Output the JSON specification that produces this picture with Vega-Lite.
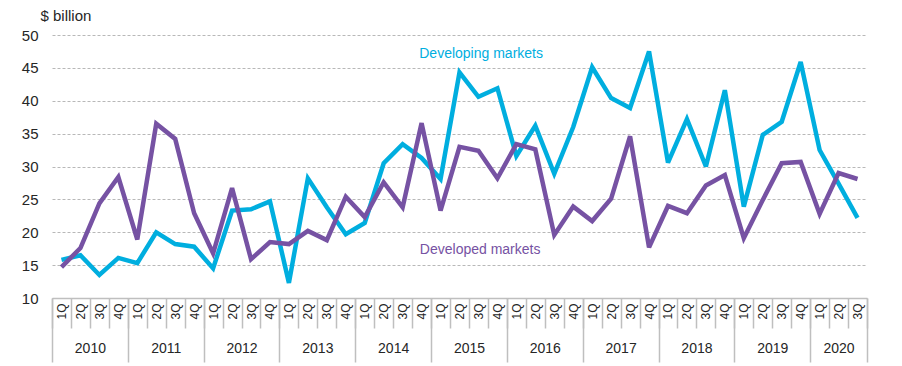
{
  "$schema": "https://vega.github.io/schema/vega-lite/v6.json",
  "width": 815,
  "height": 263,
  "autosize": {"type": "none"},
  "padding": {"left": 52, "top": 35, "right": 35, "bottom": 68},
  "config": {
    "view": {"stroke": null},
    "font": "Liberation Sans",
    "axis": {"grid": false, "labelFont": "Liberation Sans", "titleFont": "Liberation Sans"}
  },
  "datasets": {
    "flows": [
      {"i": 0, "year": 2010, "quarter": "1Q", "developing": 15.8, "developed": 14.7},
      {"i": 1, "year": 2010, "quarter": "2Q", "developing": 16.5, "developed": 17.6},
      {"i": 2, "year": 2010, "quarter": "3Q", "developing": 13.5, "developed": 24.4},
      {"i": 3, "year": 2010, "quarter": "4Q", "developing": 16.1, "developed": 28.4},
      {"i": 4, "year": 2011, "quarter": "1Q", "developing": 15.3, "developed": 18.9},
      {"i": 5, "year": 2011, "quarter": "2Q", "developing": 20.0, "developed": 36.5},
      {"i": 6, "year": 2011, "quarter": "3Q", "developing": 18.2, "developed": 34.2},
      {"i": 7, "year": 2011, "quarter": "4Q", "developing": 17.8, "developed": 22.9},
      {"i": 8, "year": 2012, "quarter": "1Q", "developing": 14.5, "developed": 16.8},
      {"i": 9, "year": 2012, "quarter": "2Q", "developing": 23.3, "developed": 26.7},
      {"i": 10, "year": 2012, "quarter": "3Q", "developing": 23.5, "developed": 15.9},
      {"i": 11, "year": 2012, "quarter": "4Q", "developing": 24.7, "developed": 18.5},
      {"i": 12, "year": 2013, "quarter": "1Q", "developing": 12.3, "developed": 18.2},
      {"i": 13, "year": 2013, "quarter": "2Q", "developing": 28.2, "developed": 20.2},
      {"i": 14, "year": 2013, "quarter": "3Q", "developing": 23.8, "developed": 18.8},
      {"i": 15, "year": 2013, "quarter": "4Q", "developing": 19.7, "developed": 25.4},
      {"i": 16, "year": 2014, "quarter": "1Q", "developing": 21.4, "developed": 22.3},
      {"i": 17, "year": 2014, "quarter": "2Q", "developing": 30.5, "developed": 27.6},
      {"i": 18, "year": 2014, "quarter": "3Q", "developing": 33.4, "developed": 23.8},
      {"i": 19, "year": 2014, "quarter": "4Q", "developing": 31.3, "developed": 36.6},
      {"i": 20, "year": 2015, "quarter": "1Q", "developing": 28.1, "developed": 23.3},
      {"i": 21, "year": 2015, "quarter": "2Q", "developing": 44.3, "developed": 33.0},
      {"i": 22, "year": 2015, "quarter": "3Q", "developing": 40.6, "developed": 32.4},
      {"i": 23, "year": 2015, "quarter": "4Q", "developing": 41.9, "developed": 28.2},
      {"i": 24, "year": 2016, "quarter": "1Q", "developing": 31.6, "developed": 33.4},
      {"i": 25, "year": 2016, "quarter": "2Q", "developing": 36.2, "developed": 32.6},
      {"i": 26, "year": 2016, "quarter": "3Q", "developing": 28.9, "developed": 19.6},
      {"i": 27, "year": 2016, "quarter": "4Q", "developing": 36.0, "developed": 23.9},
      {"i": 28, "year": 2017, "quarter": "1Q", "developing": 45.1, "developed": 21.7},
      {"i": 29, "year": 2017, "quarter": "2Q", "developing": 40.4, "developed": 25.1},
      {"i": 30, "year": 2017, "quarter": "3Q", "developing": 38.9, "developed": 34.6},
      {"i": 31, "year": 2017, "quarter": "4Q", "developing": 47.5, "developed": 17.7},
      {"i": 32, "year": 2018, "quarter": "1Q", "developing": 30.6, "developed": 24.0},
      {"i": 33, "year": 2018, "quarter": "2Q", "developing": 37.2, "developed": 22.9},
      {"i": 34, "year": 2018, "quarter": "3Q", "developing": 30.0, "developed": 27.1},
      {"i": 35, "year": 2018, "quarter": "4Q", "developing": 41.6, "developed": 28.7},
      {"i": 36, "year": 2019, "quarter": "1Q", "developing": 23.9, "developed": 19.1},
      {"i": 37, "year": 2019, "quarter": "2Q", "developing": 34.8, "developed": 24.9},
      {"i": 38, "year": 2019, "quarter": "3Q", "developing": 36.8, "developed": 30.5},
      {"i": 39, "year": 2019, "quarter": "4Q", "developing": 45.9, "developed": 30.7},
      {"i": 40, "year": 2020, "quarter": "1Q", "developing": 32.5, "developed": 22.8},
      {"i": 41, "year": 2020, "quarter": "2Q", "developing": 27.4, "developed": 29.0},
      {"i": 42, "year": 2020, "quarter": "3Q", "developing": 22.2, "developed": 28.1}
    ],
    "labels": [
      {"label": "Developing markets", "i": 22.14, "value": 47.1},
      {"label": "Developed markets", "i": 22.09, "value": 17.3}
    ]
  },
  "resolve": {"axis": {"x": "independent"}},
  "layer": [
    {
      "data": {"name": "flows"},
      "mark": {"type": "line", "color": "#00AEDF", "strokeWidth": 4.5, "strokeJoin": "miter", "strokeMiterLimit": 3},
      "encoding": {
        "x": {
          "field": "i", "type": "quantitative",
          "scale": {"domain": [-0.5, 42.5], "nice": false, "zero": false},
          "axis": {
            "orient": "bottom", "offset": 0,
            "title": null,
            "values": [0,1,2,3,4,5,6,7,8,9,10,11,12,13,14,15,16,17,18,19,20,21,22,23,24,25,26,27,28,29,30,31,32,33,34,35,36,37,38,39,40,41,42],
            "labelExpr": "(datum.value % 4 + 1) + 'Q'",
            "labelAngle": -90, "labelAlign": "right", "labelBaseline": "middle",
            "labelFontSize": 12, "labelColor": "#262626", "labelPadding": 5,
            "ticks": false, "domain": true, "domainColor": "#bfbfbf", "domainWidth": 1.5,
            "labelOverlap": false, "labelFlush": false
          }
        },
        "y": {
          "field": "developing", "type": "quantitative",
          "scale": {"domain": [10, 50], "nice": false, "zero": false},
          "axis": {
            "title": "$ billion", "titleAngle": 0, "titleAlign": "left", "titleBaseline": "middle",
            "titleX": -12, "titleY": -20, "titleFontSize": 15, "titleFontWeight": "normal", "titleColor": "#262626",
            "values": [10, 15, 20, 25, 30, 35, 40, 45, 50],
            "labelFontSize": 15, "labelColor": "#262626", "labelPadding": 14,
            "ticks": false, "domain": false,
            "grid": true, "gridDash": [3, 2], "gridColor": "#b8b8b8", "gridWidth": 1
          }
        }
      }
    },
    {
      "data": {"name": "flows"},
      "mark": {"type": "line", "color": "#7652A3", "strokeWidth": 4.5, "strokeJoin": "miter", "strokeMiterLimit": 3},
      "encoding": {
        "x": {
          "field": "i", "type": "quantitative",
          "axis": {
            "orient": "bottom", "offset": 0,
            "title": null,
            "values": [-0.5,0.5,1.5,2.5,3.5,4.5,5.5,6.5,7.5,8.5,9.5,10.5,11.5,12.5,13.5,14.5,15.5,16.5,17.5,18.5,19.5,20.5,21.5,22.5,23.5,24.5,25.5,26.5,27.5,28.5,29.5,30.5,31.5,32.5,33.5,34.5,35.5,36.5,37.5,38.5,39.5,40.5,41.5,42.5],
            "labels": false, "domain": false,
            "ticks": true, "tickSize": 30, "tickColor": "#bfbfbf", "tickWidth": 1.5
          }
        },
        "y": {
          "field": "developed", "type": "quantitative",
          "axis": {
            "title": "$ billion", "titleAngle": 0, "titleAlign": "left", "titleBaseline": "middle",
            "titleX": -12, "titleY": -20, "titleFontSize": 15, "titleFontWeight": "normal", "titleColor": "#262626",
            "values": [10, 15, 20, 25, 30, 35, 40, 45, 50],
            "labelFontSize": 15, "labelColor": "#262626", "labelPadding": 14,
            "ticks": false, "domain": false,
            "grid": true, "gridDash": [3, 2], "gridColor": "#b8b8b8", "gridWidth": 1
          }
        }
      }
    },
    {
      "data": {"name": "labels"},
      "transform": [{"filter": "datum.label == 'Developing markets'"}],
      "mark": {"type": "text", "color": "#00AEDF", "fontSize": 14, "align": "center", "baseline": "middle"},
      "encoding": {
        "text": {"field": "label"},
        "x": {
          "field": "i", "type": "quantitative",
          "axis": {
            "orient": "bottom", "offset": 0,
            "title": null,
            "values": [-0.5, 3.5, 7.5, 11.5, 15.5, 19.5, 23.5, 27.5, 31.5, 35.5, 39.5, 42.5],
            "labels": false, "domain": false,
            "ticks": true, "tickSize": 64, "tickColor": "#bfbfbf", "tickWidth": 1.5
          }
        },
        "y": {
          "field": "value", "type": "quantitative",
          "axis": {
            "title": "$ billion", "titleAngle": 0, "titleAlign": "left", "titleBaseline": "middle",
            "titleX": -12, "titleY": -20, "titleFontSize": 15, "titleFontWeight": "normal", "titleColor": "#262626",
            "values": [10, 15, 20, 25, 30, 35, 40, 45, 50],
            "labelFontSize": 15, "labelColor": "#262626", "labelPadding": 14,
            "ticks": false, "domain": false,
            "grid": true, "gridDash": [3, 2], "gridColor": "#b8b8b8", "gridWidth": 1
          }
        }
      }
    },
    {
      "data": {"name": "labels"},
      "transform": [{"filter": "datum.label == 'Developed markets'"}],
      "mark": {"type": "text", "color": "#7652A3", "fontSize": 14, "align": "center", "baseline": "middle"},
      "encoding": {
        "text": {"field": "label"},
        "x": {
          "field": "i", "type": "quantitative",
          "axis": {
            "orient": "bottom", "offset": 0,
            "title": null,
            "values": [1.5, 5.5, 9.5, 13.5, 17.5, 21.5, 25.5, 29.5, 33.5, 37.5, 41],
            "labelExpr": "'' + (floor(datum.value / 4) + 2010)",
            "labelFontSize": 14, "labelColor": "#262626", "labelPadding": 43,
            "labelAngle": 0, "labelAlign": "center", "labelBaseline": "top",
            "ticks": false, "domain": false, "labelOverlap": false, "labelFlush": false
          }
        },
        "y": {
          "field": "value", "type": "quantitative",
          "axis": {
            "title": "$ billion", "titleAngle": 0, "titleAlign": "left", "titleBaseline": "middle",
            "titleX": -12, "titleY": -20, "titleFontSize": 15, "titleFontWeight": "normal", "titleColor": "#262626",
            "values": [10, 15, 20, 25, 30, 35, 40, 45, 50],
            "labelFontSize": 15, "labelColor": "#262626", "labelPadding": 14,
            "ticks": false, "domain": false,
            "grid": true, "gridDash": [3, 2], "gridColor": "#b8b8b8", "gridWidth": 1
          }
        }
      }
    }
  ]
}
